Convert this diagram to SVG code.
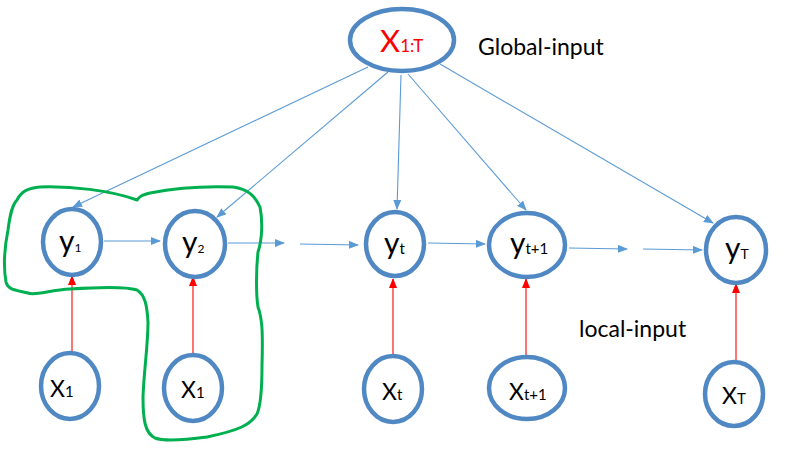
<svg xmlns="http://www.w3.org/2000/svg" width="790" height="453" viewBox="0 0 790 453">
<defs>
<marker id="ab" markerUnits="userSpaceOnUse" markerWidth="10" markerHeight="8" refX="9" refY="4" orient="auto"><path d="M0,0 L10,4 L0,8 z" fill="#5B9BD5"/></marker>
<marker id="ar" markerUnits="userSpaceOnUse" markerWidth="10" markerHeight="8" refX="9" refY="4" orient="auto"><path d="M0,0 L10,4 L0,8 z" fill="#FF0000"/></marker>
</defs>
<style>
.n{fill:#fff;stroke:#5088C4;stroke-width:4.5}
.t{font-family:Lato,"Liberation Sans",sans-serif;fill:#000}
.b{stroke:#5B9BD5;stroke-width:1.1;fill:none;marker-end:url(#ab)}
.r{stroke:#FF0000;stroke-width:1.1;fill:none;marker-end:url(#ar)}
.lab{font-family:Lato,"Liberation Sans",sans-serif;font-size:23px;fill:#000}
</style>
<rect width="790" height="453" fill="#fff"/>
<g id="connectors">
<line class="b" x1="368" y1="67" x2="73" y2="207"/>
<line class="b" x1="388" y1="72" x2="217" y2="217"/>
<line class="b" x1="401" y1="75" x2="397" y2="209"/>
<line class="b" x1="408" y1="74" x2="526" y2="210"/>
<line class="b" x1="440" y1="64" x2="713" y2="223"/>
<line class="b" x1="104" y1="241" x2="160" y2="241"/>
<line class="b" x1="228" y1="243" x2="284" y2="243"/>
<line class="b" x1="300" y1="244" x2="358" y2="245"/>
<line class="b" x1="428" y1="243" x2="485" y2="244"/>
<line class="b" x1="569" y1="248" x2="627" y2="249"/>
<line class="b" x1="643" y1="249" x2="702" y2="250"/>
<line class="r" x1="72" y1="352" x2="72" y2="276"/>
<line class="r" x1="193" y1="353" x2="193" y2="277"/>
<line class="r" x1="393" y1="355" x2="393" y2="279"/>
<line class="r" x1="526" y1="356" x2="526" y2="279"/>
<line class="r" x1="736" y1="361" x2="736" y2="284"/>
</g>
<g id="global">
<ellipse class="n" cx="402" cy="40" rx="52" ry="31"/>
<text class="t" x="380" y="52" style="fill:#FF0000"><tspan font-size="31">X</tspan><tspan font-size="17">1:T</tspan></text>
</g>
<g id="y1"><ellipse class="n" cx="72" cy="242" rx="29" ry="33"/><text class="t" x="59" y="252"><tspan font-size="30">y</tspan><tspan font-size="12">1</tspan></text></g>
<g id="y2"><ellipse class="n" cx="195" cy="244" rx="30" ry="33"/><text class="t" x="182" y="253"><tspan font-size="30">y</tspan><tspan font-size="12">2</tspan></text></g>
<g id="yt"><ellipse class="n" cx="395" cy="244" rx="29" ry="32"/><text class="t" x="384" y="254"><tspan font-size="30">y</tspan><tspan font-size="15">t</tspan></text></g>
<g id="yt1"><ellipse class="n" cx="527" cy="245" rx="38" ry="32"/><text class="t" x="510" y="254"><tspan font-size="30">y</tspan><tspan font-size="15">t+1</tspan></text></g>
<g id="yT"><ellipse class="n" cx="736" cy="250" rx="30" ry="33"/><text class="t" x="725" y="259"><tspan font-size="30">y</tspan><tspan font-size="14">T</tspan></text></g>
<g id="x1a"><ellipse class="n" cx="70" cy="386" rx="29" ry="33"/><text class="t" x="50" y="397"><tspan font-size="23">X</tspan><tspan font-size="15">1</tspan></text></g>
<g id="x1b"><ellipse class="n" cx="193" cy="388" rx="29" ry="33"/><text class="t" x="181" y="398"><tspan font-size="23">X</tspan><tspan font-size="15">1</tspan></text></g>
<g id="xt"><ellipse class="n" cx="393" cy="389" rx="29" ry="33"/><text class="t" x="382" y="400"><tspan font-size="23">X</tspan><tspan font-size="15">t</tspan></text></g>
<g id="xt1"><ellipse class="n" cx="527" cy="388" rx="38" ry="31"/><text class="t" x="509" y="400"><tspan font-size="23">X</tspan><tspan font-size="15">t+1</tspan></text></g>
<g id="xT"><ellipse class="n" cx="734" cy="394" rx="29" ry="32"/><text class="t" x="722" y="404"><tspan font-size="23">X</tspan><tspan font-size="15">T</tspan></text></g>
<g id="labels">
<text class="lab" x="478" y="55">Global-input</text>
<text class="lab" x="579" y="337">local-input</text>
</g>
<path id="grouping" d="M17,200 C22,190 30,188 40,187 C70,186 110,190 137,200 C140,196 142,195 150,193 C175,188 205,186 233,187 C248,189 255,196 260,207 C263,222 262,240 258,252 C256,270 256,295 258,307 C262,318 263,330 262,365 C262,390 261,405 257,414 C250,425 240,430 207,437 C185,440 165,442 155,438 C145,433 143,420 143,397 C144,370 148,345 148,322 C147,305 145,295 137,290 C125,286 100,287 70,289 C50,290 35,296 28,293 C15,290 8,290 6,282 C3,265 5,245 8,230 C10,215 12,205 17,200 Z" fill="none" stroke="#00B050" stroke-width="3" stroke-linejoin="round"/>
</svg>
